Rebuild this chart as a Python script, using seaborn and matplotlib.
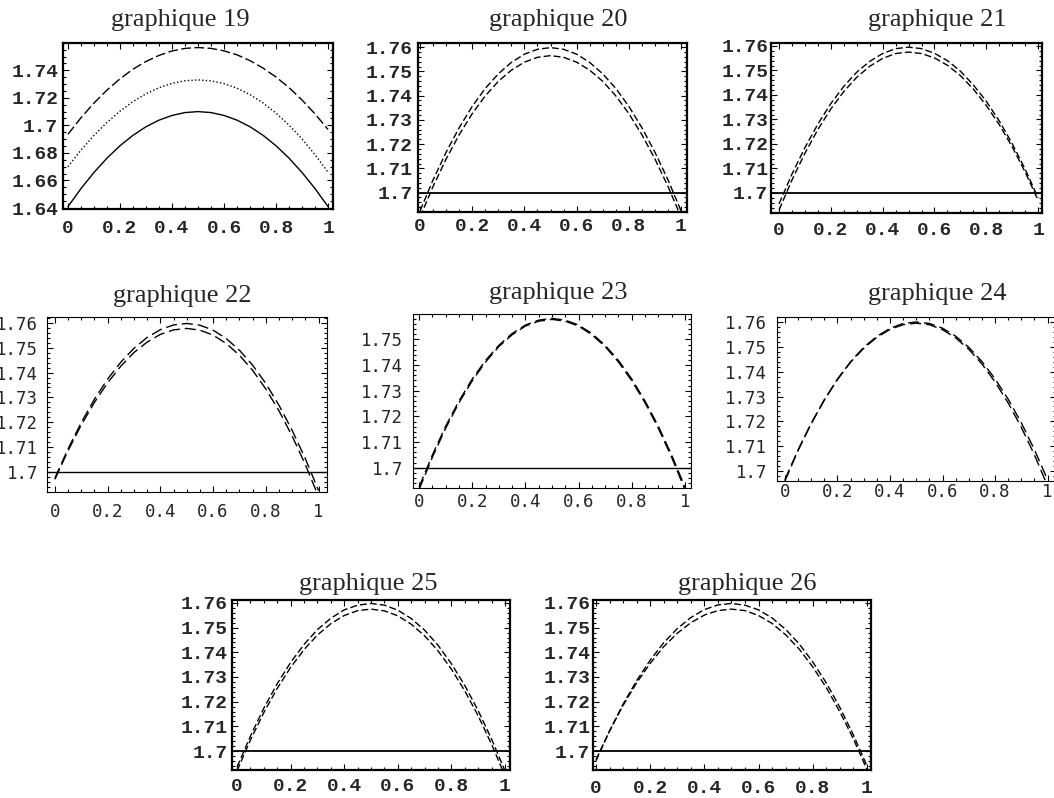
import matplotlib
matplotlib.use("Agg")
import matplotlib.pyplot as plt
import seaborn as sns
from matplotlib.ticker import MultipleLocator

sns.set_style("ticks")

W, H = 1054, 798

# abscisses communes
x_vals = [0.0, 0.05, 0.1, 0.15, 0.2, 0.25, 0.3, 0.35, 0.4, 0.45, 0.5,
          0.55, 0.6, 0.65, 0.7, 0.75, 0.8, 0.85, 0.9, 0.95, 1.0]

# graphique 19 : trois courbes
g19_plein = [1.6410, 1.6541, 1.6658, 1.6762, 1.6852, 1.6928, 1.6990, 1.7038, 1.7072, 1.7093, 1.7100,
             1.7093, 1.7072, 1.7038, 1.6990, 1.6928, 1.6852, 1.6762, 1.6658, 1.6541, 1.6410]
g19_points = [1.6700, 1.6820, 1.6927, 1.7021, 1.7103, 1.7173, 1.7229, 1.7273, 1.7305, 1.7324, 1.7330,
              1.7323, 1.7303, 1.7270, 1.7223, 1.7163, 1.7089, 1.7002, 1.6901, 1.6787, 1.6660]
g19_tirets = [1.6935, 1.7055, 1.7162, 1.7256, 1.7338, 1.7408, 1.7464, 1.7508, 1.7540, 1.7559, 1.7565,
              1.7559, 1.7541, 1.7512, 1.7470, 1.7416, 1.7351, 1.7274, 1.7184, 1.7083, 1.6970]

# graphiques 20 à 26 : deux courbes chacun
g20_a = [1.6925, 1.7053, 1.7167, 1.7268, 1.7356, 1.7430, 1.7490, 1.7537, 1.7571, 1.7591, 1.7598,
         1.7591, 1.7571, 1.7537, 1.7490, 1.7430, 1.7356, 1.7268, 1.7167, 1.7053, 1.6925]
g20_b = [1.6900, 1.7026, 1.7139, 1.7239, 1.7326, 1.7399, 1.7459, 1.7505, 1.7538, 1.7558, 1.7565,
         1.7558, 1.7538, 1.7505, 1.7459, 1.7399, 1.7326, 1.7239, 1.7139, 1.7026, 1.6900]

g21_a = [1.6955, 1.7077, 1.7185, 1.7281, 1.7365, 1.7435, 1.7493, 1.7537, 1.7569, 1.7589, 1.7595,
         1.7589, 1.7570, 1.7540, 1.7497, 1.7441, 1.7374, 1.7294, 1.7201, 1.7097, 1.6980]
g21_b = [1.6930, 1.7053, 1.7162, 1.7259, 1.7343, 1.7414, 1.7472, 1.7517, 1.7549, 1.7569, 1.7575,
         1.7569, 1.7551, 1.7521, 1.7479, 1.7424, 1.7357, 1.7279, 1.7188, 1.7085, 1.6970]

g22_a = [1.6975, 1.7093, 1.7199, 1.7293, 1.7374, 1.7442, 1.7498, 1.7542, 1.7573, 1.7592, 1.7598,
         1.7591, 1.7571, 1.7537, 1.7490, 1.7430, 1.7356, 1.7268, 1.7167, 1.7053, 1.6925]
g22_b = [1.6970, 1.7086, 1.7189, 1.7280, 1.7359, 1.7426, 1.7481, 1.7523, 1.7554, 1.7572, 1.7578,
         1.7571, 1.7551, 1.7517, 1.7470, 1.7409, 1.7334, 1.7246, 1.7144, 1.7029, 1.6900]

g23_a = [1.6925, 1.7050, 1.7162, 1.7260, 1.7346, 1.7418, 1.7477, 1.7523, 1.7556, 1.7575, 1.7582,
         1.7575, 1.7556, 1.7523, 1.7477, 1.7418, 1.7346, 1.7260, 1.7162, 1.7050, 1.6925]
g23_b = [1.6915, 1.7041, 1.7154, 1.7253, 1.7339, 1.7412, 1.7472, 1.7518, 1.7552, 1.7571, 1.7578,
         1.7571, 1.7552, 1.7518, 1.7472, 1.7412, 1.7339, 1.7253, 1.7154, 1.7041, 1.6915]

g24_a = [1.6960, 1.7082, 1.7190, 1.7286, 1.7370, 1.7440, 1.7498, 1.7542, 1.7574, 1.7594, 1.7600,
         1.7594, 1.7575, 1.7543, 1.7498, 1.7441, 1.7371, 1.7289, 1.7194, 1.7086, 1.6965]
g24_b = [1.6965, 1.7085, 1.7192, 1.7286, 1.7368, 1.7438, 1.7494, 1.7538, 1.7570, 1.7589, 1.7595,
         1.7589, 1.7569, 1.7536, 1.7490, 1.7431, 1.7359, 1.7274, 1.7176, 1.7065, 1.6940]

g25_a = [1.6935, 1.7061, 1.7174, 1.7273, 1.7359, 1.7432, 1.7492, 1.7538, 1.7572, 1.7591, 1.7598,
         1.7591, 1.7571, 1.7537, 1.7490, 1.7429, 1.7354, 1.7266, 1.7164, 1.7049, 1.6920]
g25_b = [1.6920, 1.7045, 1.7156, 1.7254, 1.7339, 1.7411, 1.7470, 1.7516, 1.7549, 1.7569, 1.7575,
         1.7568, 1.7548, 1.7514, 1.7467, 1.7406, 1.7332, 1.7244, 1.7143, 1.7028, 1.6900]

g26_a = [1.6960, 1.7081, 1.7190, 1.7285, 1.7368, 1.7439, 1.7496, 1.7541, 1.7573, 1.7592, 1.7598,
         1.7591, 1.7572, 1.7539, 1.7493, 1.7434, 1.7361, 1.7276, 1.7177, 1.7065, 1.6940]
g26_b = [1.6965, 1.7081, 1.7185, 1.7276, 1.7355, 1.7423, 1.7477, 1.7520, 1.7551, 1.7569, 1.7575,
         1.7569, 1.7549, 1.7517, 1.7471, 1.7413, 1.7341, 1.7257, 1.7159, 1.7049, 1.6925]

niveau_ref = 1.70

x_ticks = [0, 0.2, 0.4, 0.6, 0.8, 1]
x_labels = ["0", "0.2", "0.4", "0.6", "0.8", "1"]
y_ticks_19 = [1.64, 1.66, 1.68, 1.70, 1.72, 1.74]
y_labels_19 = ["1.64", "1.66", "1.68", "1.7", "1.72", "1.74"]
y_ticks = [1.70, 1.71, 1.72, 1.73, 1.74, 1.75, 1.76]
y_labels = ["1.7", "1.71", "1.72", "1.73", "1.74", "1.75", "1.76"]

# styles de trait
TIRET = (0, (5, 2.2))
TIRET_LONG = (0, (7, 2.5))
POINTILLE = (0, (1, 1.6))
TIRET_FIN = (0, (8, 3.5))

# (numéro, courbes, ligne 1.7, boîte px [x0, x1, y0, y1], xlim, ylim, style, pad x, pad y, titre (x, y))
panneaux = [
    ("19", [(g19_plein, "-"), (g19_points, POINTILLE), (g19_tirets, TIRET_LONG)], False,
     [63, 333, 43, 209], (-0.019, 1.019), (1.6393, 1.7598), "ancien", 8, 3.5, (180, 26),
     y_ticks_19, y_labels_19, 0.005),
    ("20", [(g20_a, TIRET), (g20_b, TIRET)], True,
     [418, 687, 43, 212], (-0.008, 1.023), (1.692, 1.7617), "ancien", 4.5, 4, (558, 26),
     y_ticks, y_labels, 0.002),
    ("21", [(g21_a, TIRET), (g21_b, TIRET)], True,
     [771, 1042, 43, 213], (-0.031, 1.015), (1.6918, 1.7612), "ancien", 6.5, 2, (937, 26),
     y_ticks, y_labels, 0.002),
    ("22", [(g22_a, TIRET_FIN), (g22_b, TIRET_FIN)], True,
     [47, 327, 317, 492], (-0.030, 1.032), (1.6919, 1.7624), "nouveau", 8, 6.5, (182, 302),
     y_ticks, y_labels, 0.002),
    ("23", [(g23_a, TIRET_FIN), (g23_b, TIRET_FIN)], True,
     [413, 691, 314, 488], (-0.023, 1.023), (1.6921, 1.7599), "nouveau", 3.5, 7, (558, 299),
     y_ticks[:-1], y_labels[:-1], 0.002),
    ("24", [(g24_a, TIRET_FIN), (g24_b, TIRET_FIN)], False,
     [777, 1056, 317, 481], (-0.030, 1.032), (1.696, 1.762), "nouveau", 1.5, 7, (937, 300),
     y_ticks, y_labels, 0.002),
    ("25", [(g25_a, TIRET), (g25_b, TIRET)], True,
     [232, 510, 600, 770], (-0.019, 1.019), (1.6923, 1.7612), "ancien", 6, 3, (368, 590),
     y_ticks, y_labels, 0.002),
    ("26", [(g26_a, TIRET), (g26_b, TIRET)], True,
     [593, 871, 600, 770], (-0.011, 1.015), (1.6923, 1.7612), "ancien", 7, 2, (747, 590),
     y_ticks, y_labels, 0.002),
]

fig = plt.figure(figsize=(W / 100, H / 100), dpi=100)
fig.patch.set_facecolor("white")

for (num, courbes, ref, box, xlim, ylim, style, padx, pady, pos_titre,
     yt, yl, y_minor) in panneaux:
    x0, x1, y0, y1 = box
    ax = fig.add_axes([x0 / W, 1 - y1 / H, (x1 - x0) / W, (y1 - y0) / H])
    ax.set_facecolor("white")

    for valeurs, ls in courbes:
        sns.lineplot(x=x_vals, y=valeurs, ax=ax, color="black", lw=1.0,
                     linestyle=ls, estimator=None, sort=False)
    if ref:
        ax.axhline(niveau_ref, color="black", lw=1.3 if style == "ancien" else 1.0)

    ax.set_xlim(*xlim)
    ax.set_ylim(*ylim)

    if style == "ancien":
        fam, taille, poids, cadre = "Liberation Mono", 14, "bold", 1.6
    else:
        fam, taille, poids, cadre = "DejaVu Sans Mono", 12.5, "normal", 0.8

    ax.set_xticks(x_ticks, x_labels, fontfamily=fam, fontsize=taille, fontweight=poids)
    ax.set_yticks(yt, yl, fontfamily=fam, fontsize=taille, fontweight=poids)
    ax.xaxis.set_minor_locator(MultipleLocator(0.05))
    ax.yaxis.set_minor_locator(MultipleLocator(y_minor))
    ax.tick_params(which="both", direction="in", top=True, right=True, color="black", width=0.8)
    ax.tick_params(which="major", length=4)
    ax.tick_params(which="minor", length=2)
    ax.tick_params(axis="x", which="major", pad=padx)
    ax.tick_params(axis="y", which="major", pad=pady)
    ax.set_xlabel("")
    ax.set_ylabel("")
    for sp in ax.spines.values():
        sp.set_linewidth(cadre)
        sp.set_color("black")

    fig.text(pos_titre[0] / W, 1 - pos_titre[1] / H, f"graphique {num}",
             ha="center", va="baseline", fontsize=19, family="Liberation Serif")

fig.savefig("out.png", dpi=100, facecolor="white")
